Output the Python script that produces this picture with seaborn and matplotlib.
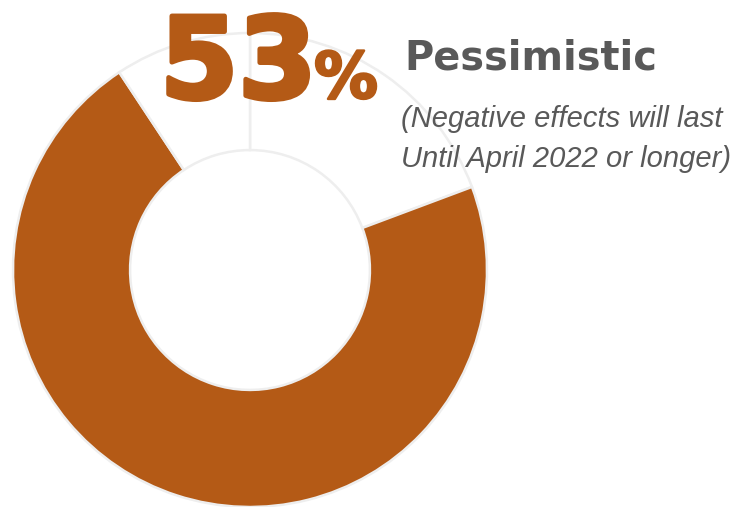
import matplotlib
matplotlib.use("Agg")
import matplotlib.pyplot as plt
import matplotlib.patheffects as pe
import seaborn as sns

# share of the ring, clockwise from 12 o'clock
segmentos = ["Outros A", "Pessimistic", "Outros B"]
valores = [19.3, 71.4, 9.3]
cores = ["#FFFFFF", "#B45A16", "#FFFFFF"]

percentual = "53"
titulo = "Pessimistic"
subtitulo = ["(Negative effects will last", "Until April 2022 or longer)"]

sns.set_theme(style="white")

fig = plt.figure(figsize=(7.38, 5.07), dpi=100)
ax = fig.add_axes([0, 0, 1, 1])

# pixel-like coordinates: 738 x 507, origin bottom-left
raio = 237
ax.pie(valores, colors=cores, startangle=90, counterclock=False,
       center=(250, 237), radius=raio,
       wedgeprops=dict(width=raio * 0.494, edgecolor="#EEEEEE", linewidth=1.8))
ax.set_xlim(0, 738)
ax.set_ylim(0, 507)
ax.set_aspect("equal")
ax.axis("off")

laranja = cores[1]
cinza = "#595959"

# heavier digits (Arial Black look) via a stroke of the same colour
grosso = [pe.withStroke(linewidth=3.5, foreground=laranja)]
ax.text(160, 409, percentual, fontsize=81, fontweight="bold", color=laranja,
        family="DejaVu Sans", ha="left", va="baseline", zorder=5,
        path_effects=grosso)
ax.text(314, 409, "%", fontsize=46, fontweight="bold", color=laranja,
        family="DejaVu Sans", ha="left", va="baseline", zorder=5,
        path_effects=[pe.withStroke(linewidth=1.8, foreground=laranja)])

ax.text(404, 437, titulo, fontsize=28.7, fontweight="bold", color=cinza,
        family="DejaVu Sans", ha="left", va="baseline", zorder=5)
# one text per line so the baselines sit exactly where they are in the picture
for linha, y in zip(subtitulo, [380, 340]):
    ax.text(401, y, linha, fontsize=21, style="italic", color=cinza,
            family="Liberation Sans", ha="left", va="baseline", zorder=5)

fig.savefig("out.png", dpi=100)
